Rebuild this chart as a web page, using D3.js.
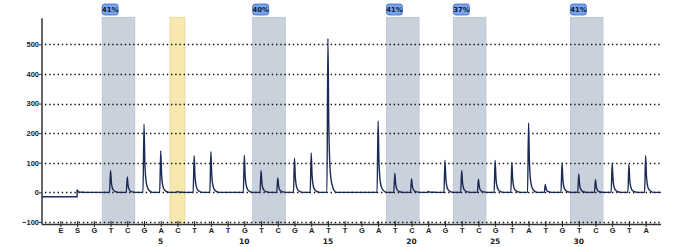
<!DOCTYPE html>
<html>
<head>
<meta charset="utf-8">
<script src="https://cdn.jsdelivr.net/npm/d3@7"></script>
<style>
  body { margin: 0; background: #fff; }
  svg { display: block; font-family: "DejaVu Sans", sans-serif; }
</style>
</head>
<body>
<svg id="pyro" width="680" height="247"></svg>
<script>
// dispensation order, E and S are enzyme/substrate (not numbered)
var dispensation = ["E","S","G","T","C","G","A","C","T","A","T","G","T","C","G","A","T","T","G","A","T","C","A","G","T","C","G","T","A","T","G","T","C","G","T","A"];
// peak heights per dispensation, same order
var peakHeights = [0, 8, 0, 74, 52, 230, 140, 3, 124, 137, 0, 125, 74, 49, 115, 133, 520, 0, 0, 241, 65, 46, 3, 108, 74, 44, 108, 101, 234, 27, 99, 62, 43, 99, 95, 124];
var startLevel = -15;

// CpG sites (variable positions) and their methylation %
var cpgStart = [2, 11, 19, 23, 30];
var cpgEnd = [3, 12, 20, 24, 31];
var cpgLabels = ["41%", "40%", "41%", "37%", "41%"];
// bisulfite control
var ctrlPos = [6];

var yTicks = [-100, 0, 100, 200, 300, 400, 500];
var xNumbers = [5, 10, 15, 20, 25, 30];

var svg = d3.select("#pyro");

// position -1 = E, 0 = S, 1.. numbered
var x = d3.scaleLinear().domain([-2.1, 34.92]).range([42, 661]);
var y = d3.scaleLinear().domain([-107, 588]).range([224, 18.3]);

// shaded bands
var bands = svg.append("g");
bands.selectAll("rect.cpg")
  .data(cpgStart)
  .enter().append("rect")
    .attr("class", "cpg")
    .attr("x", function(d) { return x(d - 0.5); })
    .attr("y", y(588) - 1)
    .attr("width", function(d, i) { return x(cpgEnd[i] + 0.45) - x(d - 0.5); })
    .attr("height", y(-103) - y(588) + 1)
    .attr("fill", "#c9d1dd")
    .attr("stroke", "#b9c3d1")
    .attr("stroke-width", 0.8);

bands.selectAll("rect.ctrl")
  .data(ctrlPos)
  .enter().append("rect")
    .attr("class", "ctrl")
    .attr("x", function(d) { return x(d - 0.45); })
    .attr("y", y(588) - 1)
    .attr("width", function(d) { return x(d + 0.45) - x(d - 0.45); })
    .attr("height", y(-103) - y(588) + 1)
    .attr("fill", "#f7e8b0")
    .attr("stroke", "#e9d690")
    .attr("stroke-width", 0.8);

// % labels above the cpg bands
var lab = svg.append("g").selectAll("g")
  .data(cpgStart)
  .enter().append("g")
    .attr("transform", function(d) { return "translate(" + [x(d - 0.5), 4] + ")"; });
lab.append("rect")
  .attr("width", 16).attr("height", 11)
  .attr("rx", 2.5)
  .attr("fill", "#79a3ec")
  .attr("stroke", "#3d67b8")
  .attr("stroke-width", 0.8);
lab.append("text")
  .attr("x", 8).attr("y", 8.2)
  .attr("text-anchor", "middle")
  .attr("font-size", 6.8)
  .attr("font-weight", "bold")
  .attr("fill", "#0d1836")
  .text(function(d, i) { return cpgLabels[i]; });

// dotted grid
svg.append("g").selectAll("line")
  .data(yTicks)
  .enter().append("line")
    .attr("x1", x(-2.1) + 3).attr("x2", 661)
    .attr("y1", function(d) { return Math.round(y(d)) + 0.5; })
    .attr("y2", function(d) { return Math.round(y(d)) + 0.5; })
    .attr("stroke", "#111")
    .attr("stroke-width", 1.3)
    .attr("stroke-dasharray", "1.4,2.8");

// y axis
var yAxis = d3.axisLeft(y).tickValues(yTicks).tickSize(3).tickFormat(d3.format("d"));
var gy = svg.append("g").attr("transform", "translate(42,0)").call(yAxis);
gy.select(".domain").attr("stroke", "#333").attr("stroke-width", 1.5).attr("d", "M0," + y(588) + "V" + 224.5);
gy.selectAll(".tick line").attr("stroke", "#333");
gy.selectAll(".tick text")
  .attr("font-size", 7.5).attr("font-weight", "bold").attr("fill", "#222").attr("x", -3);

// x axis with dispensation letters
var positions = d3.range(-1, dispensation.length - 1);
var xAxis = d3.axisBottom(x).tickValues(positions).tickSize(3)
  .tickFormat(function(d) { return dispensation[d + 1]; });
var gx = svg.append("g").attr("transform", "translate(0,224)").call(xAxis);
gx.select(".domain").attr("stroke", "#333").attr("stroke-width", 1.5).attr("d", "M42,0.5H661");
gx.selectAll(".tick line").attr("stroke", "#222").attr("y1", -3).attr("y2", 3);
gx.selectAll(".tick text")
  .attr("font-size", 7.5).attr("font-weight", "bold").attr("fill", "#222").attr("y", 4);

svg.append("g").selectAll("text")
  .data(xNumbers)
  .enter().append("text")
    .attr("x", function(d) { return x(d); })
    .attr("y", 244)
    .attr("text-anchor", "middle")
    .attr("font-size", 7.5)
    .attr("font-weight", "bold")
    .attr("fill", "#222")
    .text(function(d) { return d; });

// trace: flat start level until S, then sharp rise + decay for each peak
var decay = [[-0.06, 0], [0, 1], [0.05, 0.45], [0.1, 0.22], [0.18, 0.09], [0.3, 0.03], [0.5, 0]];
var trace = [[-2.1, startLevel], [0, startLevel]];
peakHeights.forEach(function(h, i) {
  var p = i - 1;
  if (h === 0) return;
  decay.forEach(function(s, j) {
    if (p === 0 && j === 0) return; // S: step straight up from start level
    trace.push([p + s[0], h * s[1]]);
  });
});
trace.push([34.92, 0]);

var line = d3.line()
  .x(function(d) { return x(d[0]); })
  .y(function(d) { return y(d[1]); })
  .curve(d3.curveMonotoneX);

svg.append("path")
  .datum(trace)
  .attr("fill", "none")
  .attr("stroke", "#1b2a55")
  .attr("stroke-width", 1.4)
  .attr("d", line);
</script>
</body>
</html>
